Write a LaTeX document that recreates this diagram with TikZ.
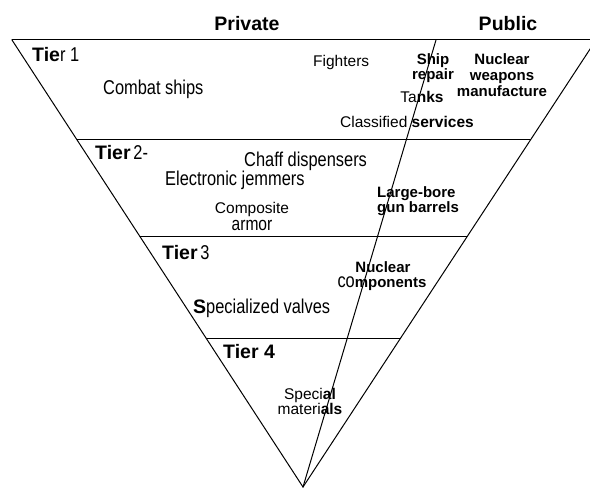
\documentclass[tikz,border=0pt]{standalone}
\usepackage{fontspec}
\setmainfont{Liberation Sans}
\newfontfamily\narrowfam{Liberation Sans}[FakeStretch=0.82]
\usetikzlibrary{calc}

% type sizes used in the pyramid
\newcommand\fsreg{\fontsize{15.5}{18}\selectfont}
\newcommand\fsbold{\fontsize{15}{18}\selectfont\bfseries}
\newcommand\fsnar{\narrowfam\fontsize{20}{24}\selectfont}
\newcommand\fshead{\fontsize{19.5}{23}\selectfont\bfseries}

\begin{document}
\begin{tikzpicture}[x=1pt,y=-1pt,
  edge/.style={line width=1pt,line cap=round},
  lbl/.style={inner sep=0pt,anchor=base west},
  lblc/.style={inner sep=0pt,anchor=base}]
\useasboundingbox (0,0) rectangle (590,489);
\clip (0,0) rectangle (590,489);

% outline of the inverted pyramid
\coordinate (apex)   at (303,487);
\coordinate (lt)     at (12,40);
\coordinate (rt)     at (596,40);
\coordinate (topend) at (590,40);
\coordinate (dtop)   at (436,40);

% tier boundaries at y = 140, 237, 339
\coordinate (l2) at ($(lt)!0.2237!(apex)$);
\coordinate (r2) at ($(rt)!0.2237!(apex)$);
\coordinate (l3) at ($(lt)!0.4407!(apex)$);
\coordinate (r3) at ($(rt)!0.4407!(apex)$);
\coordinate (l4) at ($(lt)!0.6689!(apex)$);
\coordinate (r4) at ($(rt)!0.6689!(apex)$);

\draw[edge] (lt) -- (topend);
\draw[edge] (lt) -- (apex) -- (rt);
\draw[edge] (apex) -- (dtop);
\draw[edge] (l2) -- (r2);
\draw[edge] (l3) -- (r3);
\draw[edge] (l4) -- (r4);

% column headings
\node[lblc] (hpriv) at (247,31) {\fshead Private};
\node[lblc] (hpub)  at (508,31) {\fshead Public};

% tier 1
\node[lbl] (t1) at (32,62) {{\fshead Tie}{\fsnar r 1}};
\node[lbl] (combat) at (103,95) {\fsnar Combat ships};
\node[lbl] (fight) at (313,67) {\fsreg Fighters};
\node[lblc] (ship1) at (433,64.5) {\fsbold Ship};
\node[lblc] (ship2) at (433,79.5) {\fsbold repair};
\node[lblc] (nuc1) at (502,65) {\fsbold Nuclear};
\node[lblc] (nuc2) at (502,80.5) {\fsbold weapons};
\node[lblc] (nuc3) at (502,96.5) {\fsbold manufacture};
\node[lblc] (tanks) at (422,103) {\fsreg Ta\textbf{nks}};
\node[lbl] (classif) at (340,128) {\fsreg Classified \textbf{services}};

% tier 2
\node[lbl] (t2) at (95,160) {{\fshead Tier} {\fsnar 2-}};
\node[lbl] (chaff) at (244,167) {\fsnar Chaff dispensers};
\node[lbl] (elec) at (165,186) {\fsnar Electronic jemmers};
\node[lblc] (comp1) at (252,214) {\fsreg Composite};
\node[lblc] (comp2) at (252,230.5) {\narrowfam\fontsize{19}{22}\selectfont armor};
\node[lbl] (gun1) at (377,198) {\fsbold Large-bore};
\node[lbl] (gun2) at (377,212.5) {\fsbold gun barrels};

% tier 3
\node[lbl] (t3) at (162,260) {{\fshead Tier} {\fsnar 3}};
\node[lblc] (ncomp1) at (383,273) {\fsbold Nuclear};
\node[lblc] (ncomp2) at (382,288) {{\fsnar co}{\fsbold mponents}};
\node[lbl] (valves) at (193,314) {{\fshead S}{\fsnar pecialized valves}};

% tier 4
\node[lbl] (t4) at (223,359) {\fshead Tier 4};
\node[lblc] (spec1) at (310,400) {\fsreg Speci\textbf{al}};
\node[lblc] (spec2) at (310,415) {\fsreg materi\textbf{als}};
\end{tikzpicture}
\end{document}
